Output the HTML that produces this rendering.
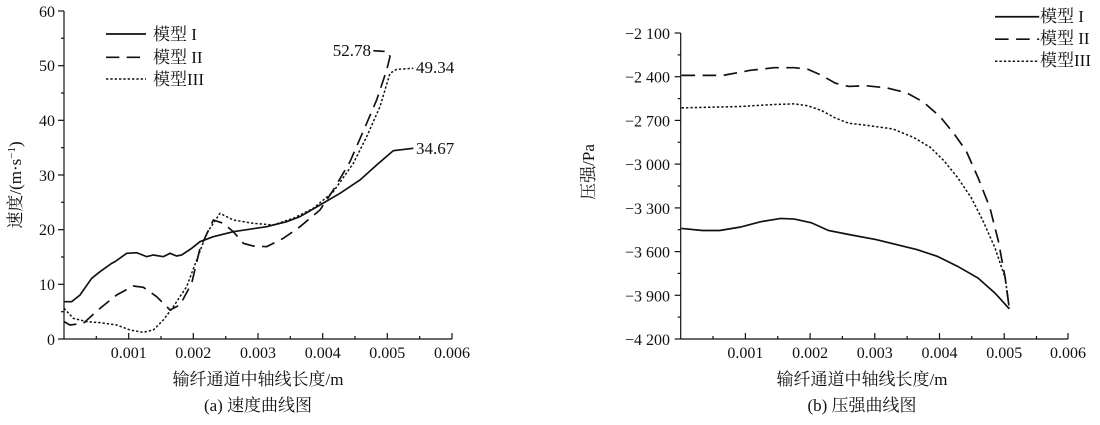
<!DOCTYPE html>
<html><head><meta charset="utf-8"><style>
body{margin:0;background:#fff}
svg{display:block}
text{font-family:"Liberation Serif","Noto Serif CJK SC","Noto Sans CJK SC",serif;fill:#111}
</style></head><body>
<svg width="1100" height="425" viewBox="0 0 1100 425">
<!-- LEFT CHART -->
<g stroke="#111" fill="none" stroke-width="1.2">
<line x1="64" y1="11" x2="64" y2="339"/>
<line x1="64" y1="339" x2="452" y2="339"/>
<line x1="58" y1="11" x2="64" y2="11"/><line x1="58" y1="65.7" x2="64" y2="65.7"/><line x1="58" y1="120.3" x2="64" y2="120.3"/><line x1="58" y1="175" x2="64" y2="175"/><line x1="58" y1="229.7" x2="64" y2="229.7"/><line x1="58" y1="284.3" x2="64" y2="284.3"/><line x1="58" y1="339" x2="64" y2="339"/>
<line x1="61" y1="38.3" x2="64" y2="38.3"/><line x1="61" y1="93" x2="64" y2="93"/><line x1="61" y1="147.7" x2="64" y2="147.7"/><line x1="61" y1="202.3" x2="64" y2="202.3"/><line x1="61" y1="257" x2="64" y2="257"/><line x1="61" y1="311.7" x2="64" y2="311.7"/>
<line x1="128.7" y1="339" x2="128.7" y2="333"/><line x1="193.3" y1="339" x2="193.3" y2="333"/><line x1="258" y1="339" x2="258" y2="333"/><line x1="322.7" y1="339" x2="322.7" y2="333"/><line x1="387.3" y1="339" x2="387.3" y2="333"/><line x1="452" y1="339" x2="452" y2="333"/>
<line x1="96.3" y1="339" x2="96.3" y2="336"/><line x1="161" y1="339" x2="161" y2="336"/><line x1="225.7" y1="339" x2="225.7" y2="336"/><line x1="290.3" y1="339" x2="290.3" y2="336"/><line x1="355" y1="339" x2="355" y2="336"/><line x1="419.7" y1="339" x2="419.7" y2="336"/>
</g>
<g transform="scale(0.33333)" fill="none" stroke="#111">
<path stroke-width="5" d="M192,905 L215,905 240,885 275,835 300,815 335,790 345,785 380,760 410,758 440,770 460,765 490,770 510,760 530,768 545,765 575,745 600,725 640,710 700,695 800,680 860,665 900,650 960,615 1020,580 1080,540 1130,495 1180,452 L1240,445"/>
<path stroke-width="5" stroke-dasharray="40,22" d="M192,965 L210,975 250,970 300,925 350,885 400,858 430,862 470,890 510,930 540,915 575,850 600,745 640,660 670,670 700,695 730,730 760,738 800,740 850,715 900,680 960,630 1000,570 1050,485 1100,370 1130,300 1160,210 1170,170 1165,155 L1120,152"/>
<path stroke-width="4.5" stroke-dasharray="7,6" d="M192,925 L220,955 260,965 300,968 350,975 390,990 430,997 460,990 490,960 520,920 560,860 590,780 620,700 660,640 700,660 760,670 820,675 880,655 940,625 1000,575 1060,490 1100,410 1140,320 1170,220 1190,208 L1240,205"/>
<line x1="318" y1="102" x2="438" y2="102" stroke-width="5"/>
<line x1="318" y1="172" x2="438" y2="172" stroke-width="5" stroke-dasharray="40,22"/>
<line x1="318" y1="237" x2="438" y2="237" stroke-width="4.5" stroke-dasharray="7,6"/>
</g>
<g font-size="16" text-anchor="end">
<text x="55" y="17">60</text><text x="55" y="71">50</text><text x="55" y="126">40</text><text x="55" y="181">30</text><text x="55" y="235">20</text><text x="55" y="290">10</text><text x="55" y="345">0</text>
</g>
<g font-size="16" text-anchor="middle">
<text x="128.7" y="358">0.001</text><text x="193.3" y="358">0.002</text><text x="258" y="358">0.003</text><text x="322.7" y="358">0.004</text><text x="387.3" y="358">0.005</text><text x="452" y="358">0.006</text>
<text x="258" y="385" font-size="17">输纤通道中轴线长度/m</text>
<text x="258" y="411" font-size="17">(a) 速度曲线图</text>
</g>
<g font-size="17">
<text x="153" y="40">模型 I</text><text x="153" y="63">模型 II</text><text x="153" y="85">模型III</text>
<text x="416" y="154">34.67</text><text x="416" y="73">49.34</text><text x="371" y="56" text-anchor="end">52.78</text>
</g>
<text font-size="17" transform="translate(21,185) rotate(-90)" text-anchor="middle">速度/(m·s<tspan font-size="11" dy="-6">−1</tspan><tspan dy="6">)</tspan></text>

<!-- RIGHT CHART -->
<g stroke="#111" fill="none" stroke-width="1.2">
<line x1="680.7" y1="33" x2="680.7" y2="339"/>
<line x1="680.7" y1="339" x2="1068" y2="339"/>
<line x1="674.7" y1="33" x2="680.7" y2="33"/><line x1="674.7" y1="76.7" x2="680.7" y2="76.7"/><line x1="674.7" y1="120.4" x2="680.7" y2="120.4"/><line x1="674.7" y1="164.1" x2="680.7" y2="164.1"/><line x1="674.7" y1="207.9" x2="680.7" y2="207.9"/><line x1="674.7" y1="251.6" x2="680.7" y2="251.6"/><line x1="674.7" y1="295.3" x2="680.7" y2="295.3"/><line x1="674.7" y1="339" x2="680.7" y2="339"/>
<line x1="677.7" y1="54.9" x2="680.7" y2="54.9"/><line x1="677.7" y1="98.6" x2="680.7" y2="98.6"/><line x1="677.7" y1="142.3" x2="680.7" y2="142.3"/><line x1="677.7" y1="186" x2="680.7" y2="186"/><line x1="677.7" y1="229.7" x2="680.7" y2="229.7"/><line x1="677.7" y1="273.4" x2="680.7" y2="273.4"/><line x1="677.7" y1="317.1" x2="680.7" y2="317.1"/>
<line x1="745.4" y1="339" x2="745.4" y2="333"/><line x1="810.1" y1="339" x2="810.1" y2="333"/><line x1="874.8" y1="339" x2="874.8" y2="333"/><line x1="939.5" y1="339" x2="939.5" y2="333"/><line x1="1004.2" y1="339" x2="1004.2" y2="333"/><line x1="1068" y1="339" x2="1068" y2="333"/>
<line x1="713" y1="339" x2="713" y2="336"/><line x1="777.7" y1="339" x2="777.7" y2="336"/><line x1="842.4" y1="339" x2="842.4" y2="336"/><line x1="907.1" y1="339" x2="907.1" y2="336"/><line x1="971.8" y1="339" x2="971.8" y2="336"/><line x1="1036.5" y1="339" x2="1036.5" y2="336"/>
</g>
<g transform="translate(570,0) scale(0.34,0.335)" fill="none" stroke="#111">
<path stroke-width="5" stroke-dasharray="40,22" d="M328,225 L450,225 530,210 600,202 660,202 700,207 740,225 780,248 820,258 870,256 930,262 990,277 1040,305 1090,350 1130,400 1165,450 1200,530 1235,620 1260,720 1280,830 1292,920"/>
<path stroke-width="4.5" stroke-dasharray="7,6" d="M328,322 L500,318 600,312 660,310 700,316 740,330 780,352 820,368 880,375 950,385 1010,410 1060,440 1100,480 1140,530 1180,590 1215,660 1250,740 1280,830 1292,920"/>
<path stroke-width="5" d="M328,682 L390,688 440,688 500,678 560,662 620,652 660,654 710,665 760,688 820,700 900,715 960,730 1020,745 1080,765 1140,795 1200,830 1250,875 1292,922"/>
<line x1="1250" y1="50" x2="1380" y2="50" stroke-width="5"/>
<line x1="1250" y1="117" x2="1380" y2="117" stroke-width="5" stroke-dasharray="40,22"/>
<line x1="1250" y1="183" x2="1380" y2="183" stroke-width="4.5" stroke-dasharray="7,6"/>
</g>
<g font-size="16" text-anchor="end">
<text x="670" y="39">−2 100</text><text x="670" y="82.7">−2 400</text><text x="670" y="126.4">−2 700</text><text x="670" y="170.1">−3 000</text><text x="670" y="213.9">−3 300</text><text x="670" y="257.6">−3 600</text><text x="670" y="301.3">−3 900</text><text x="670" y="345">−4 200</text>
</g>
<g font-size="16" text-anchor="middle">
<text x="745.4" y="358">0.001</text><text x="810.1" y="358">0.002</text><text x="874.8" y="358">0.003</text><text x="939.5" y="358">0.004</text><text x="1004.2" y="358">0.005</text><text x="1068" y="358">0.006</text>
<text x="862" y="385" font-size="17">输纤通道中轴线长度/m</text>
<text x="862" y="411" font-size="17">(b) 压强曲线图</text>
</g>
<g font-size="17">
<text x="1040" y="22">模型 I</text><text x="1040" y="44">模型 II</text><text x="1040" y="66">模型III</text>
</g>
<text font-size="17" transform="translate(594,172) rotate(-90)" text-anchor="middle">压强/Pa</text>
</svg>
</body></html>
